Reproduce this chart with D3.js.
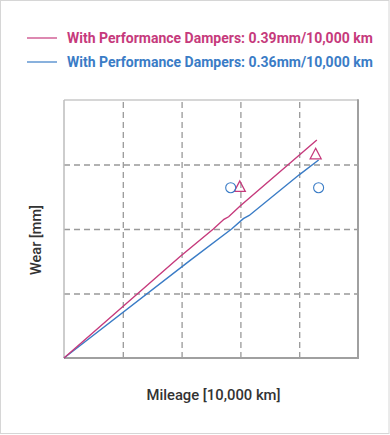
<!DOCTYPE html>
<html><head><meta charset="utf-8">
<script src="https://cdn.jsdelivr.net/npm/d3@7"></script>
<style>html,body{margin:0;padding:0;background:#fff;}svg{display:block;font-family:Roboto,"Noto Sans",sans-serif;}</style>
</head><body>
<svg id="c" width="390" height="435"></svg>
<script>
const xTicks = [0,1,2,3,4,5];
const yTicks = [0,0.5,1,1.5,2];
const seriesNames = ["With Performance Dampers: 0.39mm/10,000 km","With Performance Dampers: 0.36mm/10,000 km"];
const seriesColors = ["#c63a7c","#3a7cc6"];
const magentaLine = [[0,0],[1.97,0.785],[2.54,1.0],[2.72,1.075],[2.8,1.095],[3,1.18],[4.30,1.69]];
const blueLine = [[0,0],[2.14,0.755],[2.85,1.0],[3.05,1.08],[3.15,1.105],[4,1.42],[4.33,1.535]];
const triangles = [[2.99,1.326],[4.28,1.579]];
const circles = [[2.835,1.32],[4.33,1.32]];

const svg = d3.select("#c");
svg.append("rect").attr("x",0.5).attr("y",0.5).attr("width",388.5).attr("height",433).attr("fill","#fff").attr("stroke","#d6d6d6");

const L=64,R=358,T=100,B=358;
const x = d3.scaleLinear().domain([0,5]).range([L,R]);
const y = d3.scaleLinear().domain([0,2]).range([B,T]);

const g = svg.append("g");
g.append("g").attr("transform",`translate(0,${B})`)
  .call(d3.axisBottom(x).tickValues(xTicks.slice(1,-1)).tickSize(-(B-T)).tickFormat(""))
  .call(s=>s.select(".domain").remove())
  .call(s=>s.selectAll("line").attr("stroke","#999").attr("stroke-width",1.3).attr("stroke-dasharray","6,4"));
g.append("g").attr("transform",`translate(${L},0)`)
  .call(d3.axisLeft(y).tickValues(yTicks.slice(1,-1)).tickSize(-(R-L)).tickFormat(""))
  .call(s=>s.select(".domain").remove())
  .call(s=>s.selectAll("line").attr("stroke","#999").attr("stroke-width",1.3).attr("stroke-dasharray","6,4"));
g.append("line").attr("x1",L).attr("x2",R).attr("y1",T).attr("y2",T).attr("stroke","#c8c8c8").attr("stroke-width",1.5);
g.append("line").attr("x1",L).attr("x2",L).attr("y1",T).attr("y2",B).attr("stroke","#bdbdbd").attr("stroke-width",1.5);
g.append("line").attr("x1",R).attr("x2",R).attr("y1",T-0.7).attr("y2",B+1).attr("stroke","#a0a0a0").attr("stroke-width",2);
g.append("line").attr("x1",L).attr("x2",R+1).attr("y1",B).attr("y2",B).attr("stroke","#a0a0a0").attr("stroke-width",2);

const line = d3.line().x(d=>x(d[0])).y(d=>y(d[1]));
g.append("path").datum(blueLine).attr("d",line).attr("fill","none").attr("stroke",seriesColors[1]).attr("stroke-width",1.4);
g.append("path").datum(magentaLine).attr("d",line).attr("fill","none").attr("stroke",seriesColors[0]).attr("stroke-width",1.4);

g.selectAll(".tri").data(triangles).join("path")
  .attr("d",d=>{const cx=x(d[0]),cy=y(d[1]);return `M${cx},${cy-6}L${cx+5.5},${cy+4.5}L${cx-5.5},${cy+4.5}Z`;})
  .attr("fill","none").attr("stroke",seriesColors[0]).attr("stroke-width",1.3);
g.selectAll(".cir").data(circles).join("circle")
  .attr("cx",d=>x(d[0])).attr("cy",d=>y(d[1])).attr("r",5)
  .attr("fill","none").attr("stroke",seriesColors[1]).attr("stroke-width",1.1);

const lg = svg.append("g");
seriesNames.forEach((n,i)=>{
  const yy = 38 + i*24;
  lg.append("line").attr("x1",27).attr("x2",57).attr("y1",yy).attr("y2",yy).attr("stroke",seriesColors[i]).attr("stroke-width",1.2);
  lg.append("text").attr("x",67).attr("y",yy+5).attr("fill",seriesColors[i]).attr("font-size",14).attr("font-weight",700).text(n);
});

svg.append("text").attr("x",(L+R)/2+2.5).attr("y",400).attr("text-anchor","middle").attr("font-size",14.8).attr("font-weight",500).attr("fill","#333").text("Mileage [10,000 km]");
svg.append("text").attr("transform","translate(41,240) rotate(-90)").attr("text-anchor","middle").attr("font-size",14.5).attr("font-weight",500).attr("fill","#333").text("Wear [mm]");
</script>
</body></html>
